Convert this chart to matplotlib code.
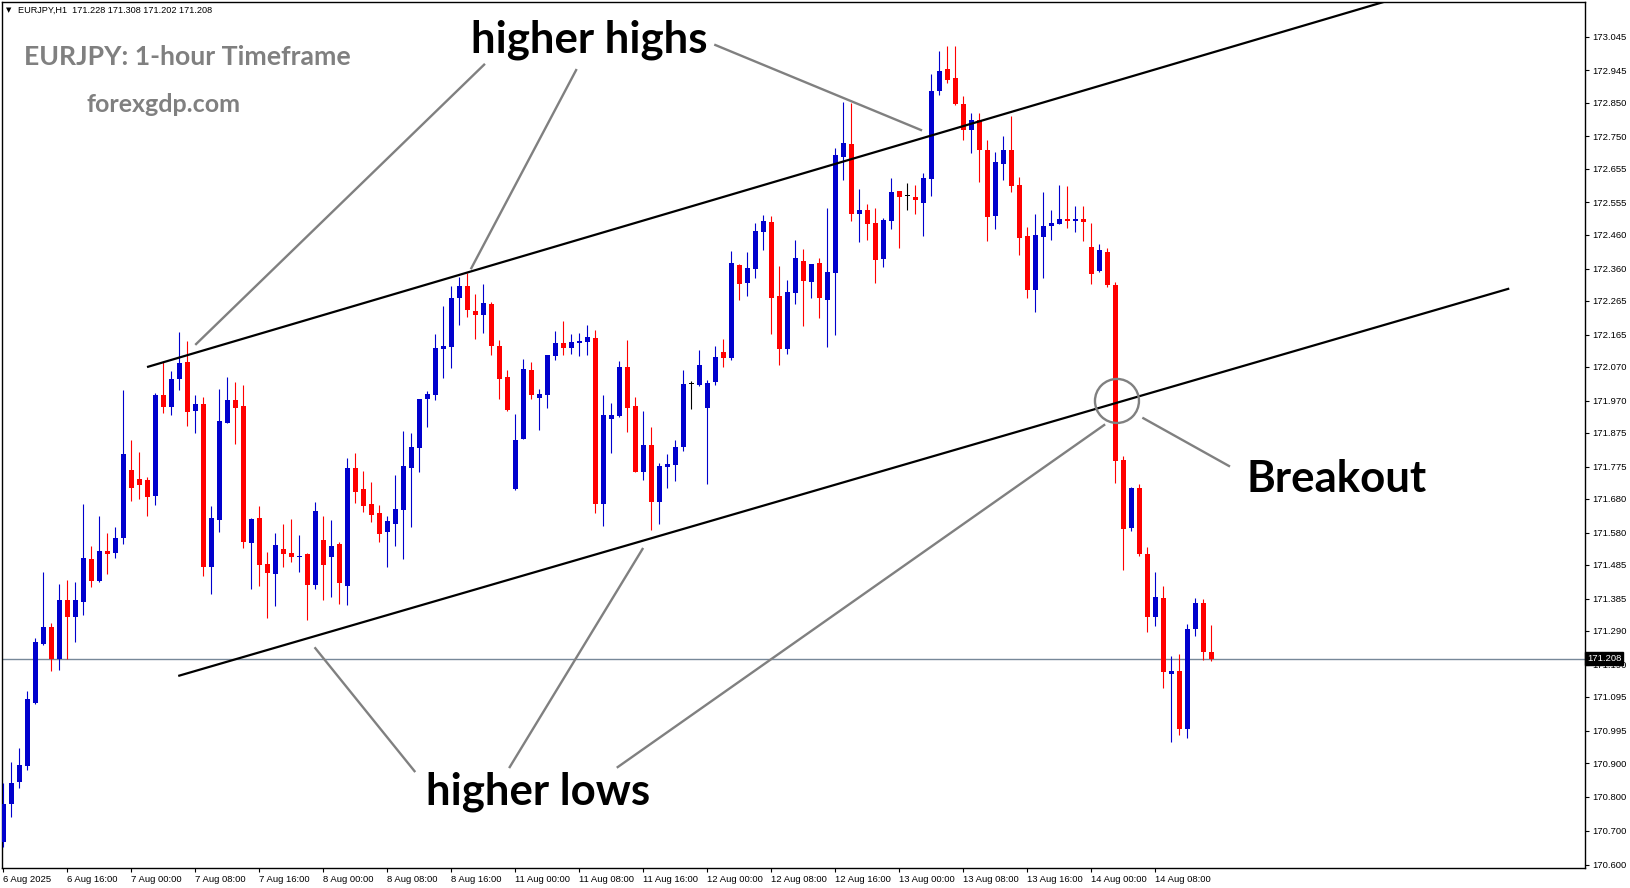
import matplotlib
matplotlib.use("Agg")
import matplotlib.pyplot as plt
from matplotlib.patches import Ellipse

# EURJPY H1 candles
opens = [170.666, 170.780, 170.845, 170.892, 171.078, 171.252, 171.302, 171.208, 171.381, 171.332,
         171.376, 171.502, 171.438, 171.526, 171.521, 171.565, 171.765, 171.739, 171.736, 171.689,
         171.987, 171.952, 172.035, 172.084, 171.940, 171.960, 171.480, 171.618, 171.905, 171.972,
         171.954, 171.551, 171.623, 171.488, 171.459, 171.533, 171.521, 171.509, 171.518, 171.427,
         171.559, 171.508, 171.548, 171.424, 171.772, 171.710, 171.666, 171.639, 171.583, 171.607,
         171.648, 171.772, 171.831, 171.976, 171.987, 172.123, 172.129, 172.273, 172.308, 172.234,
         172.224, 172.256, 172.132, 172.041, 171.710, 171.857, 172.060, 171.978, 171.987, 172.102,
         172.140, 172.126, 172.141, 172.143, 172.155, 171.666, 171.917, 171.925, 172.069, 171.954,
         171.760, 171.839, 171.672, 171.775, 171.781, 171.834, 172.019, 172.017, 171.949, 172.026,
         172.113, 172.097, 172.370, 172.318, 172.359, 172.469, 172.497, 172.280, 172.122, 172.289,
         172.382, 172.321, 172.376, 172.268, 172.348, 172.689, 172.728, 172.521, 172.533, 172.494,
         172.389, 172.501, 172.589, 172.574, 172.571, 172.554, 172.625, 172.885, 172.949, 172.923,
         172.847, 172.770, 172.800, 172.710, 172.516, 172.669, 172.710, 172.606, 172.457, 172.298,
         172.454, 172.487, 172.492, 172.506, 172.500, 172.506, 172.423, 172.354, 172.409, 172.312,
         171.794, 171.595, 171.712, 171.517, 171.332, 171.387, 171.164, 171.173, 171.000, 171.296,
         171.372, 171.228]
highs = [170.840, 170.904, 170.944, 171.113, 171.269, 171.464, 171.313, 171.429, 171.440, 171.435,
         171.665, 171.541, 171.629, 171.579, 171.597, 172.001, 171.854, 171.818, 171.745, 171.993,
         172.084, 172.057, 172.173, 172.146, 171.987, 171.981, 171.659, 172.004, 172.040, 172.025,
         172.016, 171.623, 171.659, 171.523, 171.580, 171.607, 171.621, 171.574, 171.521, 171.671,
         171.630, 171.618, 171.554, 171.801, 171.816, 171.763, 171.731, 171.663, 171.630, 171.751,
         171.881, 171.875, 171.975, 171.998, 172.167, 172.249, 172.308, 172.336, 172.346, 172.286,
         172.315, 172.262, 172.150, 172.061, 171.931, 172.093, 172.085, 172.005, 172.106, 172.176,
         172.206, 172.167, 172.170, 172.193, 172.178, 171.987, 171.963, 172.087, 172.149, 171.981,
         171.939, 171.892, 171.787, 171.813, 171.855, 172.060, 172.029, 172.120, 172.032, 172.132,
         172.152, 172.412, 172.373, 172.409, 172.494, 172.518, 172.515, 172.368, 172.327, 172.444,
         172.418, 172.373, 172.391, 172.539, 172.716, 172.852, 172.849, 172.595, 172.551, 172.539,
         172.509, 172.627, 172.589, 172.613, 172.607, 172.642, 172.935, 173.002, 173.017, 173.017,
         172.870, 172.820, 172.820, 172.740, 172.704, 172.750, 172.810, 172.630, 172.483, 172.521,
         172.586, 172.533, 172.607, 172.604, 172.544, 172.544, 172.494, 172.432, 172.420, 172.320,
         171.806, 171.715, 171.723, 171.538, 171.464, 171.422, 171.217, 171.223, 171.311, 171.387,
         171.385, 171.308]
lows = [170.652, 170.740, 170.827, 170.878, 171.075, 171.247, 171.173, 171.175, 171.208, 171.258,
        171.338, 171.419, 171.433, 171.458, 171.506, 171.548, 171.675, 171.680, 171.630, 171.663,
        171.934, 171.927, 172.000, 171.896, 171.875, 171.452, 171.400, 171.583, 171.905, 171.843,
        171.536, 171.415, 171.424, 171.329, 171.365, 171.480, 171.494, 171.465, 171.322, 171.415,
        171.382, 171.391, 171.370, 171.368, 171.669, 171.642, 171.612, 171.554, 171.480, 171.542,
        171.501, 171.598, 171.760, 171.893, 171.973, 172.038, 172.067, 172.194, 172.218, 172.153,
        172.170, 172.105, 171.976, 171.939, 171.707, 171.857, 171.976, 171.884, 171.949, 172.091,
        172.105, 172.108, 172.102, 172.106, 171.639, 171.601, 171.816, 171.922, 171.878, 171.760,
        171.737, 171.589, 171.607, 171.713, 171.734, 171.822, 171.946, 172.014, 171.725, 172.017,
        172.070, 172.091, 172.268, 172.280, 172.333, 172.416, 172.168, 172.075, 172.107, 172.256,
        172.191, 172.274, 172.215, 172.128, 172.165, 172.621, 172.501, 172.439, 172.445, 172.318,
        172.366, 172.478, 172.422, 172.534, 172.522, 172.457, 172.575, 172.873, 172.909, 172.844,
        172.740, 172.700, 172.615, 172.442, 172.478, 172.622, 172.587, 172.401, 172.274, 172.233,
        172.333, 172.445, 172.492, 172.480, 172.469, 172.442, 172.315, 172.351, 172.306, 171.727,
        171.471, 171.586, 171.512, 171.288, 171.305, 171.122, 170.961, 170.982, 170.975, 171.276,
        171.205, 171.202]
closes = [170.780, 170.842, 170.894, 171.089, 171.257, 171.302, 171.206, 171.381, 171.332, 171.381,
          171.505, 171.436, 171.526, 171.517, 171.564, 171.812, 171.713, 171.722, 171.686, 171.987,
          171.952, 172.034, 172.081, 171.937, 171.960, 171.480, 171.623, 171.910, 171.972, 171.949,
          171.553, 171.620, 171.486, 171.462, 171.545, 171.518, 171.509, 171.512, 171.427, 171.644,
          171.486, 171.541, 171.432, 171.772, 171.701, 171.660, 171.633, 171.577, 171.616, 171.651,
          171.778, 171.834, 171.975, 171.990, 172.125, 172.131, 172.273, 172.308, 172.238, 172.224,
          172.259, 172.132, 172.035, 171.942, 171.854, 172.064, 171.987, 171.990, 172.105, 172.140,
          172.126, 172.143, 172.147, 172.158, 171.666, 171.928, 171.928, 172.069, 171.949, 171.760,
          171.839, 171.672, 171.778, 171.784, 171.834, 172.019, 172.019, 172.075, 172.023, 172.099,
          172.097, 172.376, 172.315, 172.361, 172.471, 172.500, 172.274, 172.122, 172.292, 172.391,
          172.324, 172.373, 172.274, 172.350, 172.695, 172.731, 172.522, 172.533, 172.491, 172.386,
          172.503, 172.586, 172.572, 172.574, 172.562, 172.627, 172.884, 172.943, 172.918, 172.847,
          172.770, 172.800, 172.710, 172.513, 172.674, 172.710, 172.604, 172.451, 172.298, 172.459,
          172.485, 172.494, 172.506, 172.500, 172.506, 172.497, 172.345, 172.416, 172.312, 171.792,
          171.592, 171.712, 171.518, 171.332, 171.391, 171.170, 171.173, 171.000, 171.295, 171.372,
          171.228, 171.208]

time_labels = ["6 Aug 2025", "6 Aug 16:00", "7 Aug 00:00", "7 Aug 08:00", "7 Aug 16:00",
               "8 Aug 00:00", "8 Aug 08:00", "8 Aug 16:00", "11 Aug 00:00", "11 Aug 08:00",
               "11 Aug 16:00", "12 Aug 00:00", "12 Aug 08:00", "12 Aug 16:00", "13 Aug 00:00",
               "13 Aug 08:00", "13 Aug 16:00", "14 Aug 00:00", "14 Aug 08:00"]
price_ticks = [173.045, 172.945, 172.850, 172.750, 172.655, 172.555, 172.460, 172.360, 172.265,
               172.165, 172.070, 171.970, 171.875, 171.775, 171.680, 171.580, 171.485, 171.385,
               171.290, 171.190, 171.095, 170.995, 170.900, 170.800, 170.700, 170.600]
last_price = 171.208

# channel lines (bar index, price)
upper_line = [(18.1, 172.070), (174.1, 173.158)]
lower_line = [(22.0, 171.158), (188.1, 172.300)]
# grey pointer lines
pointers = [
    [(60.1, 172.962), (24.1, 172.137)],
    [(71.6, 172.946), (58.5, 172.361)],
    [(89.0, 173.020), (114.7, 172.769)],
    [(39.0, 171.239), (51.4, 170.876)],
    [(79.9, 171.532), (63.3, 170.888)],
    [(137.6, 171.898), (76.8, 170.888)],
    [(142.5, 171.918), (153.2, 171.777)],
]

W, H = 1631, 888
fig = plt.figure(figsize=(W / 100, H / 100), dpi=100)
ax = fig.add_axes([2 / W, 20 / H, 1583 / W, 866 / H])

for i in range(len(opens)):
    o, h, l, c = opens[i], highs[i], lows[i], closes[i]
    if c > o:
        col = "#0000cd"
    elif c < o:
        col = "#ff0000"
    else:
        col = "black"
    ax.vlines(i, l, h, color=col, lw=0.8, zorder=3)
    body = max(abs(c - o), 0.0025)
    ax.bar(i, body, bottom=min(o, c), width=0.62, color=col, lw=0, zorder=3)

ax.axhline(last_price, color="#778899", lw=1, zorder=1)

for line in [upper_line, lower_line]:
    ax.plot([line[0][0], line[1][0]], [line[0][1], line[1][1]], color="black", lw=1.6, zorder=4)
for p in pointers:
    ax.plot([p[0][0], p[1][0]], [p[0][1], p[1][1]], color="#808080", lw=1.7, zorder=4)

ax.add_patch(Ellipse((139.2, 171.969), 5.5, 0.130, fill=False, edgecolor="#808080", lw=1.7, zorder=5))

ann = dict(fontfamily="Lato", fontweight="bold", fontsize=31.5, color="black", ha="center", va="center")
ax.text(73.3, 173.036, "higher highs", **ann)
ax.text(66.8, 170.814, "higher lows", **ann)
ax.text(166.6, 171.740, "Breakout", **ann)

fig.text(24 / W, 1 - 57 / H, "EURJPY: 1-hour Timeframe", fontfamily="Lato", fontweight="bold",
         fontsize=19.2, color="#808080", va="center", ha="left")
fig.text(87 / W, 1 - 104 / H, "forexgdp.com", fontfamily="Lato", fontweight="bold",
         fontsize=18, color="#808080", va="center", ha="left")
fig.text(6 / W, 1 - 10.5 / H, "\u25bc", fontsize=5, color="black", va="center", ha="left")
fig.text(18 / W, 1 - 10.5 / H, "EURJPY,H1  171.228 171.308 171.202 171.208",
         fontfamily="Liberation Sans", fontsize=6.6, color="black", va="center", ha="left")

ax.set_xlim(-0.16, 197.7)
ax.set_ylim(170.590, 173.147)

ax.set_xticks(range(0, 8 * len(time_labels), 8))
ax.set_xticklabels(time_labels, ha="left", fontfamily="Liberation Sans", fontsize=6.8)
ax.yaxis.tick_right()
ax.set_yticks(price_ticks)
ax.set_yticklabels(["%.3f" % v for v in price_ticks], fontfamily="Liberation Sans", fontsize=6.8)
ax.tick_params(axis="both", direction="out", length=3, width=0.8, color="black", pad=2)
for s in ax.spines.values():
    s.set_color("black")
    s.set_linewidth(1)

ax.text(1 + 2 / 1583, last_price, "171.208", transform=ax.get_yaxis_transform(), fontfamily="Liberation Sans",
        fontsize=6.8, color="white", va="center", ha="left", zorder=10, clip_on=False,
        bbox=dict(facecolor="black", edgecolor="black", pad=1.5))

fig.savefig("out.png", dpi=100, facecolor="white")
